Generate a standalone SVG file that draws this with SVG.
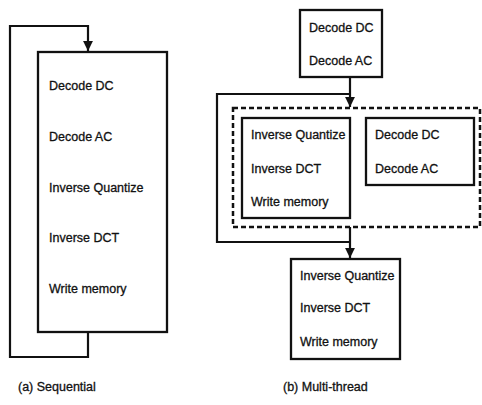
<svg xmlns="http://www.w3.org/2000/svg" width="482" height="405" viewBox="0 0 482 405">
<style>
.box{fill:#fff;stroke:#111;stroke-width:2.3}
.dash{fill:none;stroke:#111;stroke-width:2.5;stroke-dasharray:5 3}
.ln{fill:none;stroke:#111;stroke-width:2.2}
text{font-family:"Liberation Sans",Arial,sans-serif;font-size:12.5px;fill:#111;stroke:#111;stroke-width:0.3}
</style>
<defs>
<marker id="ah" viewBox="0 0 10 10" refX="10" refY="5" markerWidth="4.5" markerHeight="4.5" orient="auto" markerUnits="strokeWidth">
<path d="M0,0 L10,5 L0,10 z" fill="#111"/>
</marker>
</defs>
<rect width="482" height="405" fill="#fff"/>
<g id="connectors">
<polyline class="ln" points="88,332 88,357 10,357 10,26 88,26 88,51" marker-end="url(#ah)"/>
<line class="ln" x1="350" y1="77" x2="350" y2="107" marker-end="url(#ah)"/>
<polyline class="ln" points="350,94 217,94 217,242 350,242"/>
<line class="ln" x1="350" y1="227" x2="350" y2="258" marker-end="url(#ah)"/>
</g>
<g id="seq">
<rect class="box" x="38" y="52" width="129" height="280"/>
<text x="49" y="90">Decode DC</text>
<text x="49" y="141">Decode AC</text>
<text x="49" y="192">Inverse Quantize</text>
<text x="49" y="242">Inverse DCT</text>
<text x="49" y="293">Write memory</text>
</g>
<g id="top">
<rect class="box" x="300" y="10" width="82" height="67"/>
<text x="309" y="32">Decode DC</text>
<text x="309" y="65">Decode AC</text>
</g>
<g id="parallel">
<rect class="dash" x="233" y="108" width="247" height="119"/>
</g>
<g id="left-inner">
<rect class="box" x="242" y="118" width="108" height="100"/>
<text x="251" y="139">Inverse Quantize</text>
<text x="251" y="173">Inverse DCT</text>
<text x="251" y="206">Write memory</text>
</g>
<g id="right-inner">
<rect class="box" x="366" y="118" width="108" height="67"/>
<text x="375" y="139">Decode DC</text>
<text x="375" y="173">Decode AC</text>
</g>
<g id="bottom">
<rect class="box" x="291" y="259" width="109" height="100"/>
<text x="300" y="280">Inverse Quantize</text>
<text x="300" y="312">Inverse DCT</text>
<text x="300" y="346">Write memory</text>
</g>
<g id="captions">
<text x="18" y="391">(a) Sequential</text>
<text x="283" y="391">(b) Multi-thread</text>
</g>
</svg>
